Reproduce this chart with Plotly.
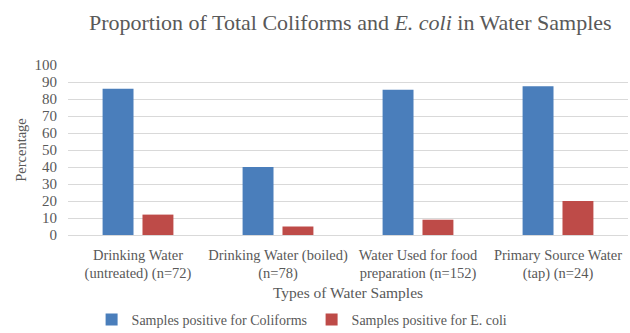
import plotly.graph_objects as go

categories = [
    "Drinking Water<br>(untreated) (n=72)",
    "Drinking Water (boiled)<br>(n=78)",
    "Water Used for food<br>preparation (n=152)",
    "Primary Source Water<br>(tap) (n=24)",
]
coliforms = [86, 40, 85.5, 87.5]
ecoli = [12, 5, 9, 20]
series_names = ["Samples positive for Coliforms", "Samples positive for E. coli"]
y_ticks = list(range(0, 101, 10))

FONT = "Liberation Serif"
GRAY = "#595959"

fig = go.Figure()
fig.add_trace(go.Bar(x=categories, y=coliforms, name=series_names[0],
                     marker=dict(color="#4a7ebb", line=dict(width=0))))
fig.add_trace(go.Bar(x=categories, y=ecoli, name=series_names[1],
                     marker=dict(color="#be4b48", line=dict(width=0))))

fig.update_layout(
    width=630, height=333,
    margin=dict(l=68, r=2, t=65, b=97.5, autoexpand=False),
    paper_bgcolor="white", plot_bgcolor="white",
    barmode="group", bargap=0.43, bargroupgap=0.225,
    font=dict(family=FONT, size=14, color=GRAY),
    title=dict(
        text="Proportion of Total Coliforms and <i>E. coli</i> in Water Samples",
        font=dict(family=FONT, size=22, color=GRAY),
        x=0.556, xanchor="center", y=0.934, yanchor="middle",
    ),
    legend=dict(orientation="h", x=0.435, xanchor="center", y=-0.5,
                yanchor="middle", font=dict(family=FONT, size=14, color=GRAY),
                itemwidth=30, traceorder="normal", entrywidth=175),
    xaxis=dict(
        title=dict(text="Types of Water Samples", font=dict(family=FONT, size=15.5, color=GRAY), standoff=5),
        showgrid=False, showline=False, ticks="", ticklabelstandoff=9, automargin=False,
        tickfont=dict(family=FONT, size=14.5, color=GRAY),
    ),
    yaxis=dict(
        title=dict(text="Percentage", font=dict(family=FONT, size=14.5, color=GRAY), standoff=4),
        range=[0, 100], tickvals=y_ticks, showgrid=True, gridcolor="#d9d9d9",
        gridwidth=1, zeroline=True, zerolinecolor="#d9d9d9", zerolinewidth=1,
        showline=False, ticks="", ticklabelstandoff=10, automargin=False,
        tickfont=dict(family=FONT, size=15, color=GRAY),
    ),
)

fig.write_html("out.html")
